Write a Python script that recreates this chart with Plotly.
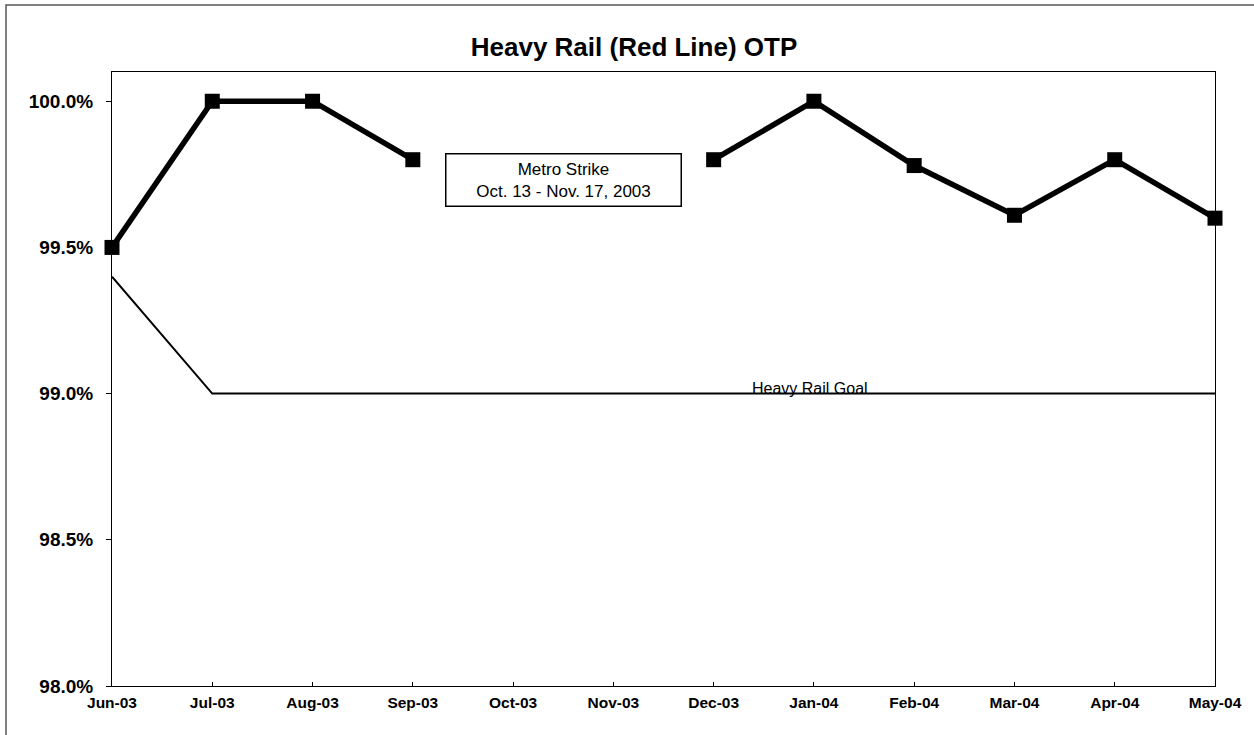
import plotly.graph_objects as go

months = ["Jun-03", "Jul-03", "Aug-03", "Sep-03", "Oct-03", "Nov-03",
          "Dec-03", "Jan-04", "Feb-04", "Mar-04", "Apr-04", "May-04"]
otp = [99.5, 100.0, 100.0, 99.8, None, None, 99.8, 100.0, 99.78, 99.61, 99.8, 99.6]
goal = [99.4, 99.0, 99.0, 99.0, 99.0, 99.0, 99.0, 99.0, 99.0, 99.0, 99.0, 99.0]
ytick_vals = [98.0, 98.5, 99.0, 99.5, 100.0]
ytick_text = ["98.0%", "98.5%", "99.0%", "99.5%", "100.0%"]

FONT = "Liberation Sans, Arial, sans-serif"
xi = list(range(len(months)))

fig = go.Figure()
fig.add_trace(go.Scatter(x=xi, y=goal, mode="lines", line=dict(color="black", width=2),
                         name="Heavy Rail Goal", hoverinfo="skip", cliponaxis=False))
fig.add_trace(go.Scatter(x=xi, y=otp, mode="lines+markers", connectgaps=False,
                         line=dict(color="black", width=5.5), cliponaxis=False,
                         marker=dict(symbol="square", size=15, color="black"),
                         name="OTP"))

W, H = 1254, 735
L, R, T, B = 112, 39, 72, 49
pw, ph = W - L - R, H - T - B
def px(x): return (x - L) / pw
def py(y): return 1 + (T - y) / ph

fig.add_shape(type="rect", xref="paper", yref="paper",
              x0=px(6), x1=px(1262), y0=py(742), y1=py(5),
              line=dict(color="#555", width=1.5), fillcolor="rgba(0,0,0,0)", layer="below")

fig.add_annotation(x=4.5, y=99.73, xref="x", yref="y",
                   text="Metro Strike<br>Oct. 13 - Nov. 17, 2003", showarrow=False,
                   font=dict(family=FONT, size=17, color="black"),
                   bordercolor="black", borderwidth=1.5, borderpad=5,
                   bgcolor="white", width=224, align="center")
fig.add_annotation(x=6.96, y=99.0, xref="x", yref="y", yanchor="bottom", yshift=-5,
                   text="Heavy Rail Goal", showarrow=False,
                   font=dict(family=FONT, size=16, color="black"))

fig.update_layout(
    width=W, height=H,
    margin=dict(l=L, r=R, t=T, b=B),
    paper_bgcolor="white", plot_bgcolor="white",
    showlegend=False,
    title=dict(text="<b>Heavy Rail (Red Line) OTP</b>", x=634 / W, xanchor="center",
               y=1 - 47 / H, yanchor="middle",
               font=dict(family=FONT, size=26, color="black")),
    xaxis=dict(range=[0, 11], tickvals=xi, ticktext=months, showgrid=False,
               showline=True, linecolor="black", linewidth=1, mirror=True,
               ticks="inside", ticklen=4, tickcolor="black", zeroline=False,
               ticklabelstandoff=2,
               tickfont=dict(family=FONT, size=15.5, color="black", weight="bold")),
    yaxis=dict(range=[98.0, 100.1], tickvals=ytick_vals, ticktext=ytick_text, showgrid=False,
               showline=True, linecolor="black", linewidth=1, mirror=True,
               ticks="outside", ticklen=5, tickcolor="black", zeroline=False,
               ticklabelstandoff=9,
               tickfont=dict(family=FONT, size=19, color="black", weight="bold")),
)

fig.write_html("out.html", config={"displayModeBar": False},
               post_script="document.body.style.margin='0';document.body.style.overflow='hidden';")
